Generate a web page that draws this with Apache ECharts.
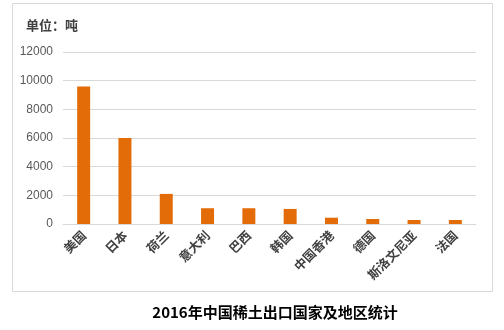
<!DOCTYPE html>
<html>
<head>
<meta charset="utf-8">
<script src="https://cdn.jsdelivr.net/npm/echarts@6/dist/echarts.min.js"></script>
<style>
  html, body { margin: 0; padding: 0; background: #fff; }
  #chart { width: 504px; height: 330px; }
</style>
</head>
<body>
<div id="chart"></div>
<script>
// 2016 rare-earth exports by destination (tonnes)
const categories = ['美国', '日本', '荷兰', '意大利', '巴西', '韩国', '中国香港', '德国', '斯洛文尼亚', '法国'];
const exportTonnes = [9600, 6000, 2100, 1100, 1100, 1050, 440, 350, 280, 280];
const yTicks = [0, 2000, 4000, 6000, 8000, 10000, 12000];

const chart = echarts.init(document.getElementById('chart'), null, { renderer: 'canvas' });
const cjk = '"Noto Sans CJK SC", "Noto Sans", sans-serif';

chart.setOption({
  animation: false,
  graphic: [
    {
      type: 'rect',
      shape: { x: 12.5, y: 3.5, width: 480, height: 288 },
      style: { fill: 'none', stroke: '#d9d9d9', lineWidth: 1 },
      z: -1
    },
    {
      type: 'text',
      left: 26, top: 19,
      style: { text: '单位：吨', font: 'bold 13px ' + cjk, fill: '#404040' }
    },
    {
      type: 'text',
      x: 275, y: 312,
      style: {
        text: '2016年中国稀土出口国家及地区统计', font: 'bold 15px ' + cjk, fill: '#000',
        align: 'center', verticalAlign: 'middle'
      }
    }
  ],
  grid: { left: 63, right: 28, top: 52, bottom: 106, containLabel: false },
  xAxis: {
    type: 'category',
    data: categories,
    axisLine: { lineStyle: { color: '#d9d9d9' } },
    axisTick: { show: false },
    axisLabel: {
      interval: 0, rotate: 45, margin: 9,
      color: '#404040', fontSize: 12.5, fontWeight: 'bold', fontFamily: cjk
    }
  },
  yAxis: {
    type: 'value',
    min: yTicks[0], max: yTicks[yTicks.length - 1], interval: 2000,
    axisLine: { show: false },
    axisTick: { show: false },
    splitLine: { lineStyle: { color: '#d9d9d9' } },
    axisLabel: {
      color: '#595959', fontSize: 12, margin: 10,
      fontFamily: 'Liberation Sans, sans-serif',
      formatter: v => String(v)
    }
  },
  series: [{
    type: 'bar',
    data: exportTonnes,
    barWidth: 13,
    itemStyle: { color: '#E36C09' }
  }]
});
</script>
</body>
</html>
